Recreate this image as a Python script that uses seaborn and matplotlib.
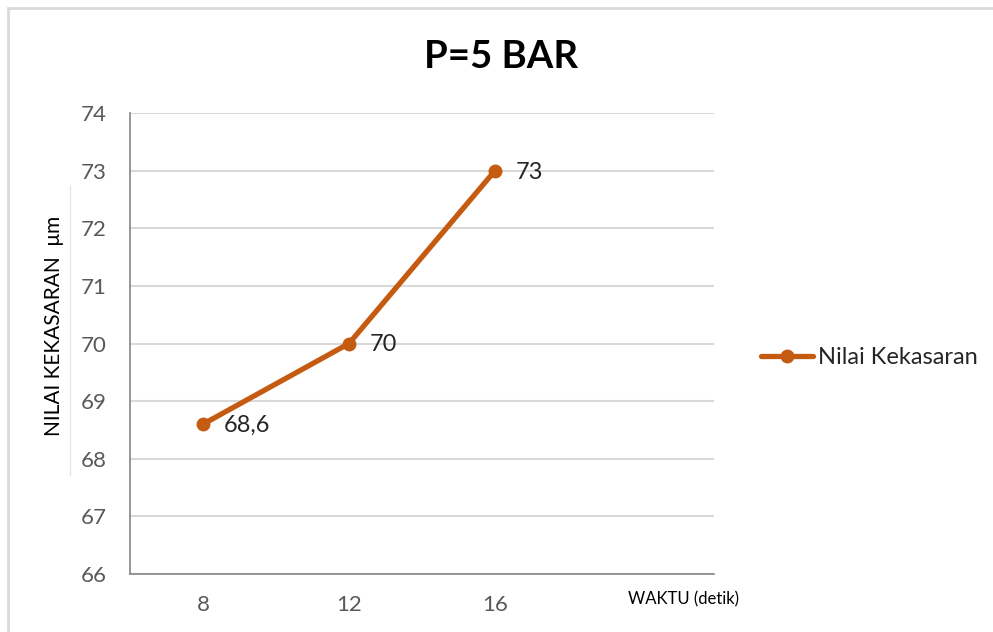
import matplotlib
matplotlib.use("Agg")
import matplotlib.pyplot as plt
import seaborn as sns
import pandas as pd
from matplotlib.lines import Line2D
from matplotlib.patches import Rectangle

categories = ["8", "12", "16"]
values = [68.6, 70, 73]
value_labels = ["68,6", "70", "73"]
y_ticks = [66, 67, 68, 69, 70, 71, 72, 73, 74]
series_name = "Nilai Kekasaran"
title = "P=5 BAR"
y_title = "NILAI KEKASARAN  μm"
x_title = "WAKTU (detik)"

sns.set_theme(style="white")
plt.rcParams["font.family"] = ["Lato", "DejaVu Sans"]

color = "#C55A11"
df = pd.DataFrame({"waktu": categories, "nilai": values})

fig = plt.figure(figsize=(9.93, 6.32), dpi=100)
ax = fig.add_axes([130 / 993, 1 - 574 / 632, (714 - 130) / 993, (574 - 113) / 632])

sns.lineplot(data=df, x="waktu", y="nilai", ax=ax, color=color, linewidth=3.8,
             marker="o", markersize=10, markeredgewidth=0, label=series_name,
             sort=False)

ax.set_xlim(-0.5, 3.5)
ax.set_ylim(66, 74)
ax.set_yticks(y_ticks)
ax.set_yticklabels([str(t) for t in y_ticks])
ax.set_xticks(range(len(categories)))
ax.set_xticklabels(categories)
ax.tick_params(axis="both", labelsize=16, labelcolor="#595959", length=0)
ax.tick_params(axis="x", pad=15)
ax.tick_params(axis="y", pad=17)
ax.grid(axis="y", color="#D9D9D9", linewidth=1.5)
ax.set_axisbelow(True)
for s in ["top", "right"]:
    ax.spines[s].set_visible(False)
ax.spines["left"].set_color("#868686")
ax.spines["bottom"].set_color("#868686")
ax.spines["left"].set_linewidth(1.2)
ax.spines["bottom"].set_linewidth(1.2)
ax.set_xlabel("")
ax.set_ylabel("")

for i, (v, lab) in enumerate(zip(values, value_labels)):
    ax.annotate(lab, xy=(i, v), xytext=(15, -1), textcoords="offset points",
                ha="left", va="center", fontsize=17, color="#262626")

leg = ax.legend(loc="center left", bbox_to_anchor=(740 / 993, 1 - 358 / 632),
                bbox_transform=fig.transFigure, frameon=False, fontsize=17,
                handlelength=2.2, handletextpad=0.2)
for t in leg.get_texts():
    t.set_color("#262626")

fig.text(501 / 993, 1 - 57 / 632, title, ha="center", va="center",
         fontsize=27.5, fontweight="bold", color="black")
fig.text(54 / 993, 1 - 326 / 632, y_title, ha="center", va="center",
         rotation=90, fontsize=15, color="black")
fig.text(684 / 993, 1 - 599 / 632, x_title, ha="center", va="center",
         fontsize=12, color="black")

fig.add_artist(Line2D([70 / 993, 70 / 993], [1 - 185 / 632, 1 - 475 / 632],
                      transform=fig.transFigure, color="#E6E6E6", linewidth=1))
fig.add_artist(Rectangle((8 / 993, -0.05), 1.1, 1 - 8 / 632 + 0.05,
                         transform=fig.transFigure, fill=False,
                         edgecolor="#D9D9D9", linewidth=2))

fig.savefig("out.png", dpi=100)
